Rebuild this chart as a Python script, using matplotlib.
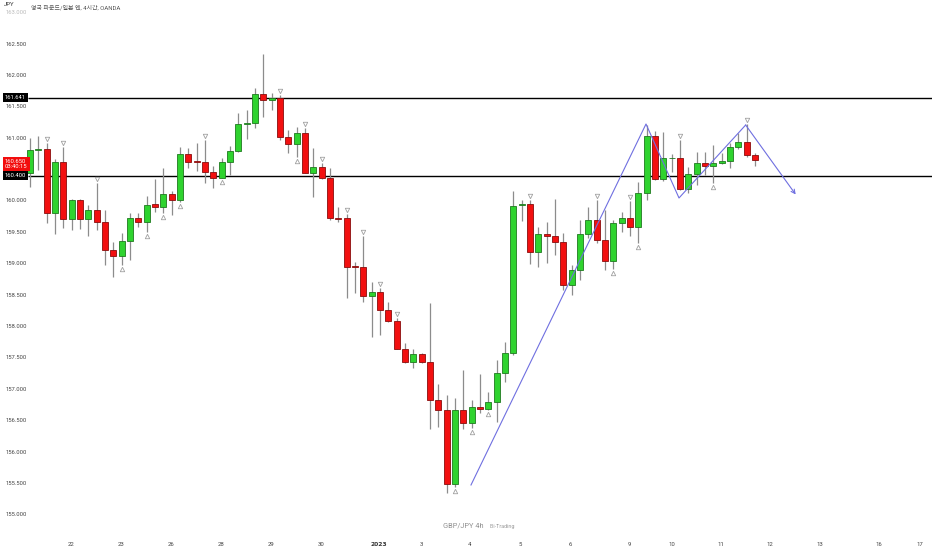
import matplotlib
matplotlib.use('Agg')
import matplotlib.pyplot as plt
from matplotlib.patches import Rectangle
import matplotlib.transforms as mtransforms

plt.rcParams['font.family'] = ['Roboto', 'Noto Sans CJK KR', 'DejaVu Sans']

# ---- data: GBP/JPY 4h candles (open, high, low, close) ----
opens = [160.451, 160.812, 160.828, 159.814, 160.616, 159.709, 160.016, 159.709, 159.852, 159.670,
         159.220, 159.129, 159.363, 159.729, 159.670, 159.947, 159.909, 160.111, 160.016, 160.744,
         160.626, 160.620, 160.467, 160.371, 160.626, 160.796, 161.221, 161.237, 161.704, 161.608,
         161.635, 161.024, 160.908, 161.078, 160.451, 160.549, 160.361, 159.724, 159.724, 158.954,
         158.954, 158.492, 158.556, 158.264, 158.094, 157.648, 157.431, 157.559, 157.431, 156.831,
         156.672, 155.489, 156.672, 156.460, 156.724, 156.683, 156.804, 157.266, 157.575, 159.931,
         159.947, 159.193, 159.474, 159.447, 159.352, 158.662, 158.901, 159.474, 159.697, 159.379,
         159.049, 159.645, 159.724, 159.581, 160.132, 161.035, 160.347, 160.680, 160.689, 160.191,
         160.425, 160.600, 160.562, 160.610, 160.642, 160.865, 160.935, 160.732]
highs = [161.003, 161.035, 160.924, 160.669, 160.865, 160.032, 160.030, 159.936, 160.282, 159.857,
         159.352, 159.490, 159.809, 159.809, 160.084, 160.350, 160.521, 160.159, 160.852, 160.839,
         160.928, 160.971, 160.562, 160.680, 160.876, 161.396, 161.449, 161.804, 162.341, 161.715,
         161.688, 161.131, 161.183, 161.158, 160.839, 160.600, 160.521, 159.909, 159.793, 159.033,
         159.443, 158.705, 158.610, 158.387, 158.132, 157.744, 157.638, 157.575, 158.371, 157.086,
         156.911, 156.858, 157.309, 156.831, 157.245, 156.963, 157.468, 157.759, 160.164, 160.016,
         160.016, 159.581, 159.670, 160.032, 159.486, 158.981, 159.697, 159.909, 160.016, 159.857,
         159.697, 159.830, 160.000, 160.307, 161.210, 161.115, 161.099, 160.744, 160.971, 160.537,
         160.785, 160.785, 160.892, 160.760, 160.919, 161.078, 161.226, 160.769]
lows = [160.223, 160.494, 159.650, 159.474, 159.575, 159.538, 159.554, 159.443, 159.538, 158.981,
        158.794, 158.981, 159.060, 159.591, 159.506, 159.830, 159.809, 159.777, 159.989, 160.521,
        160.478, 160.282, 160.202, 160.361, 160.414, 160.780, 160.982, 161.167, 161.342, 161.449,
        160.971, 160.760, 160.705, 160.446, 160.068, 160.345, 159.697, 159.670, 158.450, 158.540,
        158.396, 157.829, 157.866, 158.078, 157.638, 157.415, 157.336, 157.415, 156.364, 156.406,
        155.345, 155.450, 156.364, 156.380, 156.619, 156.672, 156.485, 157.122, 157.548, 159.686,
        158.997, 158.954, 159.008, 159.140, 158.583, 158.503, 158.742, 159.406, 159.326, 158.901,
        158.917, 159.511, 159.447, 159.326, 160.016, 160.334, 160.314, 160.467, 160.175, 160.132,
        160.255, 160.414, 160.282, 160.584, 160.521, 160.823, 160.705, 160.557]
closes = [160.812, 160.828, 159.814, 160.616, 159.709, 160.016, 159.709, 159.852, 159.670, 159.220,
          159.129, 159.363, 159.729, 159.670, 159.936, 159.909, 160.111, 160.016, 160.744, 160.626,
          160.620, 160.467, 160.371, 160.626, 160.796, 161.221, 161.237, 161.704, 161.608, 161.635,
          161.024, 160.908, 161.078, 160.451, 160.549, 160.361, 159.724, 159.720, 158.954, 158.950,
          158.492, 158.556, 158.264, 158.094, 157.648, 157.431, 157.559, 157.431, 156.831, 156.672,
          155.489, 156.672, 156.470, 156.724, 156.683, 156.804, 157.266, 157.575, 159.920, 159.947,
          159.193, 159.474, 159.447, 159.352, 158.662, 158.901, 159.474, 159.697, 159.379, 159.049,
          159.645, 159.724, 159.581, 160.132, 161.035, 160.350, 160.680, 160.689, 160.191, 160.425,
          160.600, 160.562, 160.610, 160.642, 160.865, 160.935, 160.732, 160.650]

fractal_up = [2, 4, 8, 21, 30, 33, 35, 38, 40, 42, 44, 60, 68, 72, 78, 86]
fractal_down = [11, 14, 16, 18, 23, 32, 51, 53, 55, 70, 73, 82]

levels = [161.641, 160.400]
last_price = 160.650
countdown = "03:40:15"

pattern_x = [52.92, 73.92, 77.88, 85.88, 91.88]
pattern_y = [155.478, 161.226, 160.048, 161.210, 160.104]

price_ticks = [163.0, 162.5, 162.0, 161.5, 161.0, 160.0, 159.5, 159.0, 158.5,
               158.0, 157.5, 157.0, 156.5, 156.0, 155.5, 155.0]
date_pos = [4.92, 10.88, 16.88, 22.88, 28.88, 34.88, 41.88, 46.92, 52.8, 58.88,
            64.88, 71.88, 77.08, 82.92, 88.8, 94.8, 101.9, 106.8]
date_labels = ['22', '23', '26', '28', '29', '30', '2023', '3', '4', '5', '6',
               '9', '10', '11', '12', '13', '16', '17']

# ---- figure ----
W, H = 932, 550
fig = plt.figure(figsize=(W / 100, H / 100), dpi=100)
ax = fig.add_axes([0, 0, 1, 1])
ax.set_xlim(-3.6, 108.24)
ax.set_ylim(154.4425, 163.2007)
ax.axis('off')
fig.patch.set_facecolor('white')

GREEN, GREEN_E = '#2fd32f', '#1f7a1f'
RED, RED_E = '#f21010', '#8a0d0d'
WICK = '#8c8c8c'

xs = list(range(len(opens)))
ax.vlines(xs, lows, highs, color=WICK, lw=0.9, zorder=2)
bw = 0.72
for i, (o, h, l, c) in enumerate(zip(opens, highs, lows, closes)):
    up = c >= o
    bottom = min(o, c)
    height = max(abs(c - o), 0.012)
    ax.add_patch(Rectangle((i - bw / 2, bottom), bw, height,
                           facecolor=GREEN if up else RED,
                           edgecolor=GREEN_E if up else RED_E,
                           lw=0.6, zorder=3))

# fractal markers
up_tr = mtransforms.offset_copy(ax.transData, fig=fig, x=0, y=2.8, units='points')
dn_tr = mtransforms.offset_copy(ax.transData, fig=fig, x=0, y=-2.8, units='points')
ax.plot(fractal_up, [highs[i] for i in fractal_up], linestyle='none', marker='v',
        ms=3.2, mfc='none', mec='#a0a0a0', mew=0.6, transform=up_tr, zorder=4)
ax.plot(fractal_down, [lows[i] for i in fractal_down], linestyle='none', marker='^',
        ms=3.2, mfc='none', mec='#a0a0a0', mew=0.6, transform=dn_tr, zorder=4)

# horizontal levels
for lv in levels:
    ax.hlines(lv, -0.24, 108.24, color='black', lw=1.0, zorder=1)

# pattern lines
PAT = '#6f6fe0'
ax.plot(pattern_x[:-1], pattern_y[:-1], color=PAT, lw=0.8, zorder=5)
ax.annotate('', xy=(pattern_x[-1], pattern_y[-1]), xytext=(pattern_x[-2], pattern_y[-2]),
            arrowprops=dict(arrowstyle='->', color=PAT, lw=0.8, shrinkA=0, shrinkB=0,
                            mutation_scale=7), zorder=5)

# price axis labels (left)
bt = mtransforms.blended_transform_factory(ax.transAxes, ax.transData)
for p in price_ticks:
    ax.text(6 / W, p, f'{p:.3f}', transform=bt, ha='left', va='center',
            fontsize=4.2, color='#444444' if p < 163 else '#bbbbbb', zorder=6)

for lv in levels:
    ax.text(5 / W, lv, f'{lv:.3f}', transform=bt, ha='left', va='center',
            fontsize=4.2, color='white', zorder=8,
            bbox=dict(boxstyle='square,pad=0.35', fc='black', ec='none'))

ax.text(5 / W, last_price - 0.06, f'{last_price:.3f}\n{countdown}', transform=bt,
        ha='left', va='center', fontsize=4.2, color='white', linespacing=1.2, zorder=8,
        bbox=dict(boxstyle='square,pad=0.35', fc='#f20d0d', ec='none'))

# date labels
bx = mtransforms.blended_transform_factory(ax.transData, ax.transAxes)
for pos, lab in zip(date_pos, date_labels):
    if lab == '2023':
        ax.text(pos, 1 - 544 / H, lab, transform=bx, ha='center', va='center',
                fontsize=4.3, color='#333333', fontweight='bold', family=['DejaVu Sans'])
    else:
        ax.text(pos, 1 - 544 / H, lab, transform=bx, ha='center', va='center',
                fontsize=4.3, color='#444444')

# header
ax.text(4 / W, 1 - 5 / H, 'JPY', transform=ax.transAxes, ha='left', va='center',
        fontsize=4.3, color='#333333')
ax.text(31 / W, 1 - 8 / H, '영국 파운드/일본 엔, 4시간, OANDA', transform=ax.transAxes,
        ha='left', va='center', fontsize=4.3, color='#555555')

# watermark
ax.text(484 / W, 1 - 526.5 / H, 'GBP/JPY 4h', transform=ax.transAxes, ha='right',
        va='center', fontsize=5.3, color='#8f8f8f')
ax.text(489 / W, 1 - 526.5 / H, 'Eli-Trading', transform=ax.transAxes, ha='left',
        va='center', fontsize=3.9, color='#9a9a9a')

fig.savefig('out.png', dpi=100, facecolor='white')
